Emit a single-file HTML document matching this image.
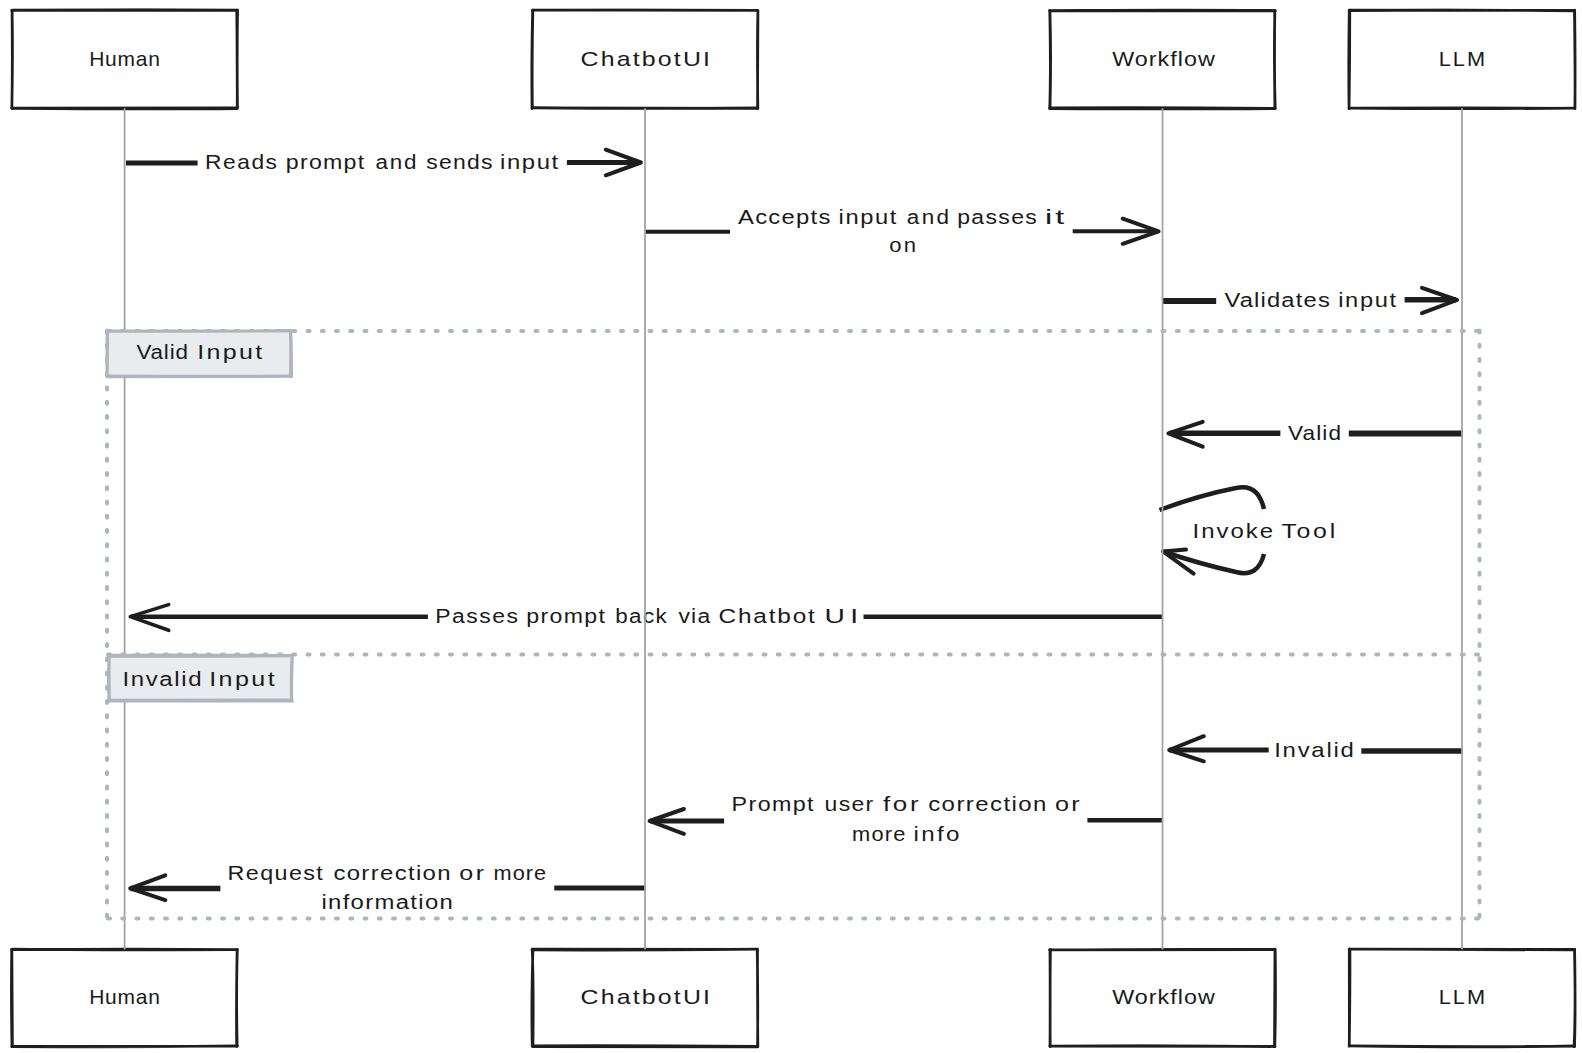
<!DOCTYPE html>
<html><head><meta charset="utf-8"><title>Sequence Diagram</title>
<style>html,body{margin:0;padding:0;background:#fff;width:1582px;height:1053px;overflow:hidden}</style>
</head><body>
<svg width="1582" height="1053" viewBox="0 0 1582 1053" style="position:absolute;left:0;top:0;font-family:'Liberation Sans',sans-serif">
<rect width="1582" height="1053" fill="#ffffff"/>
<rect x="12.1" y="10.5" width="225.0" height="97.8" fill="#fff"/>
<path d="M12.25,10.07 Q101.03,10.01 237.14,10.37 M11.64,10.43 Q125.10,9.26 236.67,10.09 " fill="none" stroke="#1e1e1e" stroke-width="2.7" stroke-linecap="round"/>
<path d="M236.72,10.22 Q237.31,68.99 237.23,108.75 M237.58,10.05 Q236.88,56.37 237.46,108.09 " fill="none" stroke="#1e1e1e" stroke-width="2.7" stroke-linecap="round"/>
<path d="M236.91,108.62 Q150.40,109.30 11.78,108.38 M237.15,107.86 Q133.21,107.91 11.66,108.01 " fill="none" stroke="#1e1e1e" stroke-width="2.7" stroke-linecap="round"/>
<path d="M11.91,108.39 Q12.61,61.52 12.05,10.30 M11.84,108.37 Q12.92,53.56 12.13,10.88 " fill="none" stroke="#1e1e1e" stroke-width="2.7" stroke-linecap="round"/>
<rect x="12.1" y="949.5" width="225.0" height="96.8" fill="#fff"/>
<path d="M12.58,949.12 Q110.29,950.14 237.02,949.76 M11.64,949.67 Q123.86,948.53 237.36,949.57 " fill="none" stroke="#1e1e1e" stroke-width="2.7" stroke-linecap="round"/>
<path d="M237.30,949.59 Q236.05,992.49 237.18,1046.26 M237.07,949.66 Q236.15,1010.81 236.66,1046.50 " fill="none" stroke="#1e1e1e" stroke-width="2.7" stroke-linecap="round"/>
<path d="M237.42,1046.08 Q91.32,1045.89 11.99,1046.47 M236.77,1045.92 Q127.19,1047.64 11.66,1046.57 " fill="none" stroke="#1e1e1e" stroke-width="2.7" stroke-linecap="round"/>
<path d="M11.99,1046.67 Q11.06,1005.23 11.68,949.45 M12.42,1046.66 Q12.24,986.77 11.88,949.42 " fill="none" stroke="#1e1e1e" stroke-width="2.7" stroke-linecap="round"/>
<rect x="532.5" y="10.5" width="225.0" height="97.8" fill="#fff"/>
<path d="M532.96,10.15 Q670.93,10.10 757.18,10.23 M532.59,10.26 Q643.98,9.75 757.00,10.42 " fill="none" stroke="#1e1e1e" stroke-width="2.7" stroke-linecap="round"/>
<path d="M757.95,10.69 Q757.87,61.35 757.52,108.42 M757.90,10.78 Q757.01,46.31 757.87,108.60 " fill="none" stroke="#1e1e1e" stroke-width="2.7" stroke-linecap="round"/>
<path d="M757.10,108.43 Q651.82,108.60 532.06,107.87 M757.34,107.85 Q667.79,109.12 532.00,107.95 " fill="none" stroke="#1e1e1e" stroke-width="2.7" stroke-linecap="round"/>
<path d="M532.03,108.67 Q531.38,63.40 532.61,10.15 M532.36,107.92 Q531.81,63.88 532.85,10.99 " fill="none" stroke="#1e1e1e" stroke-width="2.7" stroke-linecap="round"/>
<rect x="532.5" y="949.5" width="225.0" height="96.8" fill="#fff"/>
<path d="M532.09,949.10 Q643.91,949.40 757.34,949.26 M532.02,949.95 Q622.15,950.42 757.53,949.15 " fill="none" stroke="#1e1e1e" stroke-width="2.7" stroke-linecap="round"/>
<path d="M757.53,949.98 Q757.38,984.17 757.86,1046.50 M757.17,949.77 Q758.17,994.03 757.53,1046.58 " fill="none" stroke="#1e1e1e" stroke-width="2.7" stroke-linecap="round"/>
<path d="M757.81,1046.78 Q663.69,1046.78 532.85,1046.61 M757.23,1046.32 Q628.81,1045.41 532.36,1045.83 " fill="none" stroke="#1e1e1e" stroke-width="2.7" stroke-linecap="round"/>
<path d="M532.26,1046.49 Q531.18,1004.31 532.96,949.45 M532.96,1046.16 Q533.72,983.73 532.22,949.23 " fill="none" stroke="#1e1e1e" stroke-width="2.7" stroke-linecap="round"/>
<rect x="1050.0" y="10.5" width="225.0" height="97.8" fill="#fff"/>
<path d="M1050.12,10.90 Q1142.55,9.65 1275.34,10.48 M1049.58,10.66 Q1182.73,10.93 1275.41,10.78 " fill="none" stroke="#1e1e1e" stroke-width="2.7" stroke-linecap="round"/>
<path d="M1274.68,10.79 Q1274.30,58.76 1274.83,108.60 M1274.90,10.95 Q1273.68,56.34 1275.22,107.97 " fill="none" stroke="#1e1e1e" stroke-width="2.7" stroke-linecap="round"/>
<path d="M1275.40,108.61 Q1186.05,109.34 1049.65,108.63 M1274.85,108.35 Q1151.88,106.96 1049.63,107.81 " fill="none" stroke="#1e1e1e" stroke-width="2.7" stroke-linecap="round"/>
<path d="M1050.03,108.73 Q1051.32,55.01 1049.93,10.87 M1049.75,108.09 Q1050.91,67.88 1049.74,10.59 " fill="none" stroke="#1e1e1e" stroke-width="2.7" stroke-linecap="round"/>
<rect x="1050.0" y="949.5" width="225.0" height="96.8" fill="#fff"/>
<path d="M1049.63,949.91 Q1157.03,948.83 1274.85,949.46 M1049.92,949.92 Q1189.79,949.73 1275.00,949.53 " fill="none" stroke="#1e1e1e" stroke-width="2.7" stroke-linecap="round"/>
<path d="M1274.94,949.18 Q1274.93,983.92 1274.50,1046.60 M1275.23,949.56 Q1275.92,997.13 1274.83,1046.32 " fill="none" stroke="#1e1e1e" stroke-width="2.7" stroke-linecap="round"/>
<path d="M1274.61,1046.36 Q1143.31,1046.14 1049.75,1046.08 M1275.06,1046.56 Q1161.98,1045.54 1050.41,1046.24 " fill="none" stroke="#1e1e1e" stroke-width="2.7" stroke-linecap="round"/>
<path d="M1050.01,1046.49 Q1050.32,997.74 1049.95,949.53 M1050.20,1046.68 Q1049.94,985.08 1050.44,949.26 " fill="none" stroke="#1e1e1e" stroke-width="2.7" stroke-linecap="round"/>
<rect x="1349.5" y="10.5" width="225.0" height="97.8" fill="#fff"/>
<path d="M1349.84,10.14 Q1491.92,10.67 1574.12,10.44 M1349.07,10.67 Q1444.49,9.30 1574.78,10.90 " fill="none" stroke="#1e1e1e" stroke-width="2.7" stroke-linecap="round"/>
<path d="M1574.66,10.14 Q1575.47,65.74 1574.88,108.77 M1574.40,10.49 Q1575.29,72.68 1574.99,108.63 " fill="none" stroke="#1e1e1e" stroke-width="2.7" stroke-linecap="round"/>
<path d="M1574.52,108.14 Q1466.62,109.25 1349.20,108.12 M1574.55,108.24 Q1494.43,107.68 1349.02,108.13 " fill="none" stroke="#1e1e1e" stroke-width="2.7" stroke-linecap="round"/>
<path d="M1349.06,108.79 Q1349.85,59.04 1349.79,10.97 M1349.04,108.58 Q1348.39,66.28 1349.27,10.13 " fill="none" stroke="#1e1e1e" stroke-width="2.7" stroke-linecap="round"/>
<rect x="1349.5" y="949.5" width="225.0" height="96.8" fill="#fff"/>
<path d="M1349.82,949.26 Q1489.77,949.28 1574.15,949.92 M1349.09,949.06 Q1475.53,949.70 1574.69,949.43 " fill="none" stroke="#1e1e1e" stroke-width="2.7" stroke-linecap="round"/>
<path d="M1574.63,949.80 Q1575.70,1010.63 1574.08,1046.66 M1574.45,949.34 Q1575.71,1008.43 1574.55,1046.73 " fill="none" stroke="#1e1e1e" stroke-width="2.7" stroke-linecap="round"/>
<path d="M1574.53,1046.04 Q1487.03,1046.95 1349.11,1045.96 M1574.31,1046.11 Q1482.13,1047.56 1349.76,1046.09 " fill="none" stroke="#1e1e1e" stroke-width="2.7" stroke-linecap="round"/>
<path d="M1349.35,1045.82 Q1349.50,1007.25 1349.25,949.02 M1349.19,1046.27 Q1350.15,996.42 1349.93,949.11 " fill="none" stroke="#1e1e1e" stroke-width="2.7" stroke-linecap="round"/>
<line x1="126.0" y1="162.9" x2="197.6" y2="162.9" stroke="#1e1e1e" stroke-width="5" stroke-linecap="butt"/>
<line x1="566.9" y1="162.6" x2="640.0" y2="162.6" stroke="#1e1e1e" stroke-width="5" stroke-linecap="butt"/>
<path d="M605.8,149.7 L640.9,162.5 L605.8,175.3" fill="none" stroke="#1e1e1e" stroke-width="4" stroke-linecap="round" stroke-linejoin="round"/>
<text transform="translate(205.00,168.5) scale(1.0848,1.0)" font-size="21" textLength="66.37" lengthAdjust="spacing" fill="#1a1a1a">Reads</text>
<text transform="translate(285.80,168.5) scale(1.1044,1.0)" font-size="21" textLength="70.99" lengthAdjust="spacing" fill="#1a1a1a">prompt</text>
<text transform="translate(375.60,168.5) scale(1.0668,1.0)" font-size="21" textLength="38.43" lengthAdjust="spacing" fill="#1a1a1a">and</text>
<text transform="translate(426.20,168.5) scale(1.0944,1.0)" font-size="21" textLength="60.67" lengthAdjust="spacing" fill="#1a1a1a">sends</text>
<text transform="translate(500.00,168.5) scale(1.1361,1.0)" font-size="21" textLength="51.23" lengthAdjust="spacing" fill="#1a1a1a">input</text>
<line x1="645.0" y1="231.8" x2="730.0" y2="231.8" stroke="#1e1e1e" stroke-width="4" stroke-linecap="butt"/>
<line x1="1072.7" y1="231.2" x2="1158.0" y2="231.2" stroke="#1e1e1e" stroke-width="4" stroke-linecap="butt"/>
<path d="M1122.7,218.7 L1158.6,231.3 L1122.7,243.8" fill="none" stroke="#1e1e1e" stroke-width="4" stroke-linecap="round" stroke-linejoin="round"/>
<text transform="translate(738.00,223.8) scale(1.1341,1.0)" font-size="21" textLength="81.47" lengthAdjust="spacing" fill="#1a1a1a">Accepts</text>
<text transform="translate(838.60,223.8) scale(1.1288,1.0)" font-size="21" textLength="51.20" lengthAdjust="spacing" fill="#1a1a1a">input</text>
<text transform="translate(906.80,223.8) scale(1.0717,1.0)" font-size="21" textLength="39.38" lengthAdjust="spacing" fill="#1a1a1a">and</text>
<text transform="translate(957.20,223.8) scale(1.0952,1.0)" font-size="21" textLength="72.68" lengthAdjust="spacing" fill="#1a1a1a">passes</text>
<text transform="translate(1045.00,223.8) scale(1.5511,1.0)" font-size="21" textLength="12.51" lengthAdjust="spacing" fill="#1a1a1a">it</text>
<text transform="translate(889.20,252.3) scale(1.0521,1.0)" font-size="21" textLength="25.47" lengthAdjust="spacing" fill="#1a1a1a">on</text>
<line x1="1162.6" y1="301.0" x2="1216.2" y2="301.0" stroke="#1e1e1e" stroke-width="6" stroke-linecap="butt"/>
<line x1="1404.6" y1="299.8" x2="1456.0" y2="299.8" stroke="#1e1e1e" stroke-width="5.5" stroke-linecap="butt"/>
<path d="M1422.0,287.8 L1457.0,300.0 L1422.0,313.2" fill="none" stroke="#1e1e1e" stroke-width="4" stroke-linecap="round" stroke-linejoin="round"/>
<text transform="translate(1224.40,307.4) scale(1.1309,1.0)" font-size="21" textLength="93.20" lengthAdjust="spacing" fill="#1a1a1a">Validates</text>
<text transform="translate(1338.20,307.4) scale(1.1264,1.0)" font-size="21" textLength="51.49" lengthAdjust="spacing" fill="#1a1a1a">input</text>
<line x1="1170.0" y1="433.3" x2="1280.4" y2="433.3" stroke="#1e1e1e" stroke-width="5.5" stroke-linecap="butt"/>
<line x1="1348.8" y1="433.4" x2="1462.8" y2="433.4" stroke="#1e1e1e" stroke-width="6" stroke-linecap="butt"/>
<path d="M1202.7,421.8 L1168.4,433.3 L1202.7,446.7" fill="none" stroke="#1e1e1e" stroke-width="4" stroke-linecap="round" stroke-linejoin="round"/>
<text transform="translate(1288.00,440.3) scale(1.0762,1.0)" font-size="21" textLength="49.25" lengthAdjust="spacing" fill="#1a1a1a">Valid</text>
<path d="M1159.5,510 Q1200,495 1236,488 Q1258,483 1264,509" fill="none" stroke="#1e1e1e" stroke-width="4.5" stroke-linecap="butt"/>
<path d="M1264,554 Q1258,578 1236,572 Q1200,564 1163,551.5" fill="none" stroke="#1e1e1e" stroke-width="4.5" stroke-linecap="butt"/>
<path d="M1186,549.6 L1163,551.5 L1193.6,573.6" fill="none" stroke="#1e1e1e" stroke-width="4" stroke-linecap="round" stroke-linejoin="round"/>
<text transform="translate(1192.60,538.2) scale(1.1414,1.0)" font-size="21" textLength="70.44" lengthAdjust="spacing" fill="#1a1a1a">Invoke</text>
<text transform="translate(1281.40,538.2) scale(1.1863,1.0)" font-size="21" textLength="45.35" lengthAdjust="spacing" fill="#1a1a1a">Tool</text>
<line x1="131.0" y1="616.7" x2="427.9" y2="616.7" stroke="#1e1e1e" stroke-width="4.5" stroke-linecap="butt"/>
<line x1="863.5" y1="616.7" x2="1162.7" y2="616.7" stroke="#1e1e1e" stroke-width="4.5" stroke-linecap="butt"/>
<path d="M168.7,604.6 L130.3,616.6 L168.7,630.3" fill="none" stroke="#1e1e1e" stroke-width="3.6" stroke-linecap="round" stroke-linejoin="round"/>
<text transform="translate(435.20,623.3) scale(1.0918,1.0)" font-size="21" textLength="75.84" lengthAdjust="spacing" fill="#1a1a1a">Passes</text>
<text transform="translate(526.20,623.3) scale(1.1009,1.0)" font-size="21" textLength="71.58" lengthAdjust="spacing" fill="#1a1a1a">prompt</text>
<text transform="translate(615.20,623.3) scale(1.0669,1.0)" font-size="21" textLength="48.36" lengthAdjust="spacing" fill="#1a1a1a">back</text>
<text transform="translate(678.40,623.3) scale(1.0944,1.0)" font-size="21" textLength="29.06" lengthAdjust="spacing" fill="#1a1a1a">via</text>
<text transform="translate(718.60,623.3) scale(1.1611,1.0)" font-size="21" textLength="82.85" lengthAdjust="spacing" fill="#1a1a1a">Chatbot</text>
<text transform="translate(824.40,623.3) scale(1.3454,1.0)" font-size="21" textLength="25.12" lengthAdjust="spacing" fill="#1a1a1a">UI</text>
<line x1="1169.5" y1="750.0" x2="1268.7" y2="750.0" stroke="#1e1e1e" stroke-width="5" stroke-linecap="butt"/>
<line x1="1361.3" y1="750.9" x2="1462.8" y2="750.9" stroke="#1e1e1e" stroke-width="5.5" stroke-linecap="butt"/>
<path d="M1203.8,736.2 L1169.2,750.0 L1203.8,761.3" fill="none" stroke="#1e1e1e" stroke-width="4" stroke-linecap="round" stroke-linejoin="round"/>
<text transform="translate(1274.20,757.4) scale(1.1391,1.0)" font-size="21" textLength="69.88" lengthAdjust="spacing" fill="#1a1a1a">Invalid</text>
<line x1="650.0" y1="821.0" x2="724.1" y2="821.0" stroke="#1e1e1e" stroke-width="5" stroke-linecap="butt"/>
<line x1="1087.4" y1="820.3" x2="1162.0" y2="820.3" stroke="#1e1e1e" stroke-width="4.5" stroke-linecap="butt"/>
<path d="M683.9,809.0 L649.6,821.0 L683.9,833.9" fill="none" stroke="#1e1e1e" stroke-width="4" stroke-linecap="round" stroke-linejoin="round"/>
<text transform="translate(731.60,810.9) scale(1.1098,1.0)" font-size="21" textLength="73.89" lengthAdjust="spacing" fill="#1a1a1a">Prompt</text>
<text transform="translate(824.60,810.9) scale(1.0934,1.0)" font-size="21" textLength="44.45" lengthAdjust="spacing" fill="#1a1a1a">user</text>
<text transform="translate(883.00,810.9) scale(1.2365,1.0)" font-size="21" textLength="28.79" lengthAdjust="spacing" fill="#1a1a1a">for</text>
<text transform="translate(928.20,810.9) scale(1.1437,1.0)" font-size="21" textLength="103.35" lengthAdjust="spacing" fill="#1a1a1a">correction</text>
<text transform="translate(1055.00,810.9) scale(1.2017,1.0)" font-size="21" textLength="20.47" lengthAdjust="spacing" fill="#1a1a1a">or</text>
<text transform="translate(852.00,840.7) scale(1.0403,1.0)" font-size="21" textLength="51.33" lengthAdjust="spacing" fill="#1a1a1a">more</text>
<text transform="translate(913.60,840.7) scale(1.1497,1.0)" font-size="21" textLength="39.84" lengthAdjust="spacing" fill="#1a1a1a">info</text>
<line x1="130.5" y1="888.6" x2="220.4" y2="888.6" stroke="#1e1e1e" stroke-width="5.5" stroke-linecap="butt"/>
<line x1="554.3" y1="888.1" x2="645.5" y2="888.1" stroke="#1e1e1e" stroke-width="5" stroke-linecap="butt"/>
<path d="M165.3,875.4 L130.2,888.4 L165.3,900.2" fill="none" stroke="#1e1e1e" stroke-width="4" stroke-linecap="round" stroke-linejoin="round"/>
<text transform="translate(227.60,879.9) scale(1.1119,1.0)" font-size="21" textLength="85.62" lengthAdjust="spacing" fill="#1a1a1a">Request</text>
<text transform="translate(333.40,879.9) scale(1.1407,1.0)" font-size="21" textLength="102.75" lengthAdjust="spacing" fill="#1a1a1a">correction</text>
<text transform="translate(459.20,879.9) scale(1.1922,1.0)" font-size="21" textLength="20.80" lengthAdjust="spacing" fill="#1a1a1a">or</text>
<text transform="translate(493.60,879.9) scale(1.0342,1.0)" font-size="21" textLength="50.67" lengthAdjust="spacing" fill="#1a1a1a">more</text>
<text transform="translate(321.40,909.1) scale(1.1368,1.0)" font-size="21" textLength="115.59" lengthAdjust="spacing" fill="#1a1a1a">information</text>
<line x1="124.6" y1="108.3" x2="124.6" y2="949.5" stroke="#a3a3a3" stroke-width="1.8"/>
<line x1="645" y1="108.3" x2="645" y2="949.5" stroke="#a3a3a3" stroke-width="1.8"/>
<line x1="1162.5" y1="108.3" x2="1162.5" y2="949.5" stroke="#a3a3a3" stroke-width="1.8"/>
<line x1="1462" y1="108.3" x2="1462" y2="949.5" stroke="#a3a3a3" stroke-width="1.8"/>
<path d="M108,331 L1480.5,331" stroke="#adb5bd" stroke-width="4" stroke-linecap="round" stroke-dasharray="2 12.25"/>
<path d="M108,654.5 L1480.5,654.5" stroke="#adb5bd" stroke-width="4" stroke-linecap="round" stroke-dasharray="2 12.25"/>
<path d="M108,918.5 L1480.5,918.5" stroke="#adb5bd" stroke-width="4" stroke-linecap="round" stroke-dasharray="2 12.25"/>
<path d="M107,330.5 L107,919.5" stroke="#adb5bd" stroke-width="4" stroke-linecap="round" stroke-dasharray="2 12.25"/>
<path d="M1479.5,330.5 L1479.5,919.5" stroke="#adb5bd" stroke-width="4" stroke-linecap="round" stroke-dasharray="2 12.25"/>
<rect x="107.6" y="330.8" width="183.4" height="45.39999999999998" fill="#e9ecef"/>
<path d="M107.60,331.13 Q195.57,331.44 290.89,330.81 M107.44,331.13 Q225.84,331.18 291.21,330.94 " fill="none" stroke="#adb5bd" stroke-width="3.2" stroke-linecap="round"/>
<path d="M290.55,330.43 Q291.19,351.42 290.57,376.44 M290.58,331.14 Q291.49,348.91 291.37,376.37 " fill="none" stroke="#adb5bd" stroke-width="3.2" stroke-linecap="round"/>
<path d="M290.79,376.16 Q213.48,376.64 107.26,376.15 M291.47,376.25 Q173.89,376.67 107.34,376.67 " fill="none" stroke="#adb5bd" stroke-width="3.2" stroke-linecap="round"/>
<path d="M107.10,376.08 Q107.22,355.45 107.57,330.80 M107.10,375.96 Q107.00,353.44 107.19,330.70 " fill="none" stroke="#adb5bd" stroke-width="3.2" stroke-linecap="round"/>
<text transform="translate(136.40,359.0) scale(1.0686,1.0)" font-size="21" textLength="48.29" lengthAdjust="spacing" fill="#1a1a1a">Valid</text>
<text transform="translate(197.20,359.0) scale(1.1915,1.0)" font-size="21" textLength="54.55" lengthAdjust="spacing" fill="#1a1a1a">Input</text>
<rect x="109" y="655.7" width="183" height="44.89999999999998" fill="#e9ecef"/>
<path d="M108.80,655.43 Q174.28,654.78 292.09,655.73 M109.22,656.08 Q209.15,656.20 291.89,655.53 " fill="none" stroke="#adb5bd" stroke-width="3.2" stroke-linecap="round"/>
<path d="M292.22,655.84 Q291.03,673.43 291.54,700.94 M292.23,656.01 Q291.22,679.87 291.64,700.62 " fill="none" stroke="#adb5bd" stroke-width="3.2" stroke-linecap="round"/>
<path d="M292.30,700.93 Q182.11,700.59 109.08,700.99 M291.73,700.13 Q189.89,700.23 108.63,700.46 " fill="none" stroke="#adb5bd" stroke-width="3.2" stroke-linecap="round"/>
<path d="M109.06,700.73 Q108.21,673.63 109.13,655.88 M109.30,700.85 Q108.98,684.84 109.00,655.74 " fill="none" stroke="#adb5bd" stroke-width="3.2" stroke-linecap="round"/>
<text transform="translate(122.40,685.5) scale(1.1427,1.0)" font-size="21" textLength="69.31" lengthAdjust="spacing" fill="#1a1a1a">Invalid</text>
<text transform="translate(209.20,685.5) scale(1.1926,1.0)" font-size="21" textLength="54.84" lengthAdjust="spacing" fill="#1a1a1a">Input</text>
<text transform="translate(89.20,66.0) scale(1.0001,1.0)" font-size="21" textLength="70.79" lengthAdjust="spacing" fill="#1a1a1a">Human</text>
<text transform="translate(89.20,1003.5) scale(1.0001,1.0)" font-size="21" textLength="70.79" lengthAdjust="spacing" fill="#1a1a1a">Human</text>
<text transform="translate(580.60,66.0) scale(1.1860,1.0)" font-size="21" textLength="109.10" lengthAdjust="spacing" fill="#1a1a1a">ChatbotUI</text>
<text transform="translate(580.60,1003.5) scale(1.1860,1.0)" font-size="21" textLength="109.10" lengthAdjust="spacing" fill="#1a1a1a">ChatbotUI</text>
<text transform="translate(1112.20,66.0) scale(1.1106,1.0)" font-size="21" textLength="92.38" lengthAdjust="spacing" fill="#1a1a1a">Workflow</text>
<text transform="translate(1112.20,1003.5) scale(1.1106,1.0)" font-size="21" textLength="92.38" lengthAdjust="spacing" fill="#1a1a1a">Workflow</text>
<text transform="translate(1438.80,66.0) scale(1.0357,1.0)" font-size="21" textLength="44.61" lengthAdjust="spacing" fill="#1a1a1a">LLM</text>
<text transform="translate(1438.80,1003.5) scale(1.0357,1.0)" font-size="21" textLength="44.61" lengthAdjust="spacing" fill="#1a1a1a">LLM</text>
</svg>
</body></html>
